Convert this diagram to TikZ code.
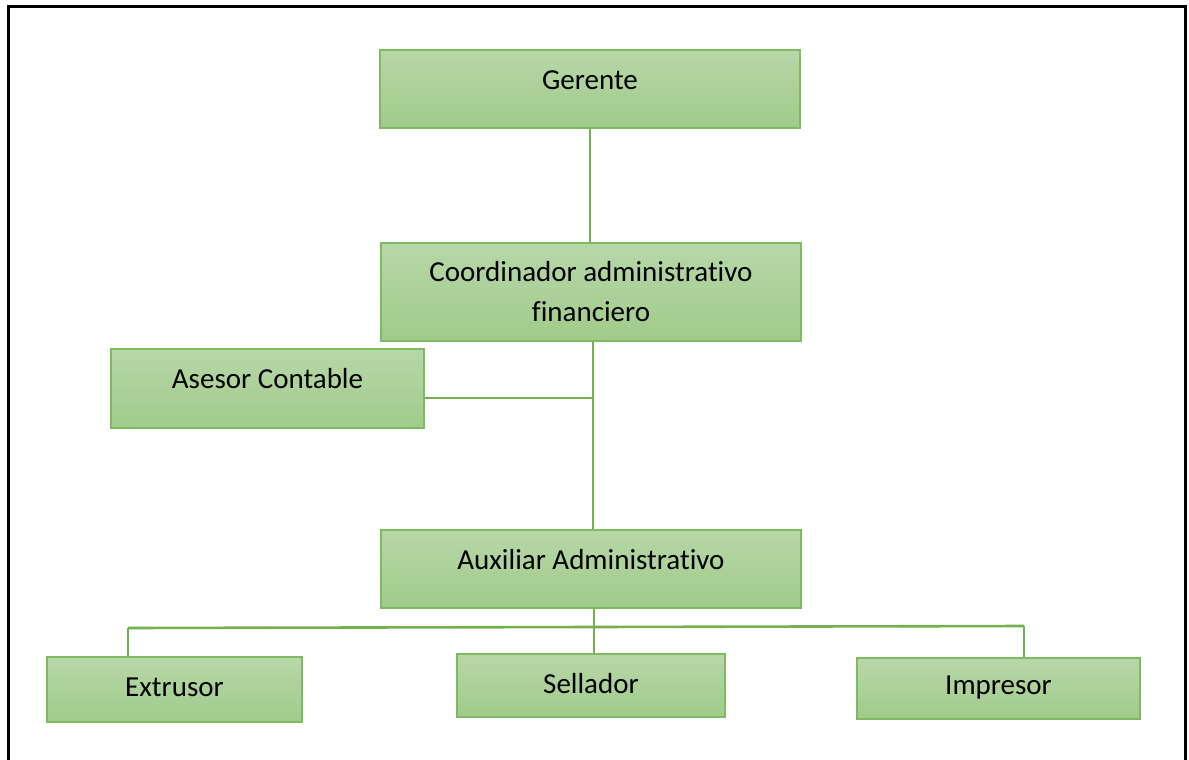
\documentclass[tikz,border=0pt]{standalone}
\usepackage{fontspec}
\setmainfont{Carlito}[Ligatures={NoCommon}]
\definecolor{boxtop}{HTML}{B7D7A8}
\definecolor{boxbot}{HTML}{A0CB8A}
\definecolor{boxedge}{HTML}{80BA60}
\definecolor{linegreen}{HTML}{74B04E}
\begin{document}
\begin{tikzpicture}[x=1pt,y=-1pt,
  box/.style={draw=boxedge,line width=1.5pt,top color=boxtop,bottom color=boxbot,inner sep=0pt},
  txt/.style={font=\fontsize{29}{40}\selectfont,inner sep=0pt,align=center,text=black},
  conn/.style={draw=linegreen,line width=2.6pt}]
\useasboundingbox (0,0) rectangle (1189,760);
\draw[line width=3pt,black] (8,770) -- (8,6.5) -- (1185,6.5) -- (1185,770);
% boxes
\node[box,minimum width=420pt,minimum height=78pt] (g) at (590,89) {};
\node[txt] (gt) at (590,80) {Gerente};
\node[box,minimum width=420pt,minimum height=98pt] (c) at (591,292) {};
\node[txt] (ct) at (591,292) {Coordinador administrativo\\financiero};
\node[box,minimum width=313pt,minimum height=79pt] (a) at (267.5,388.5) {};
\node[txt] (at) at (267.5,379) {Asesor Contable};
\node[box,minimum width=420pt,minimum height=78pt] (x) at (591,569) {};
\node[txt] (xt) at (591,560) {Auxiliar Administrativo};
\node[box,minimum width=255pt,minimum height=65pt] (e) at (174.5,689.5) {};
\node[txt] (et) at (174.5,687) {Extrusor};
\node[box,minimum width=268pt,minimum height=63pt] (s) at (591,685.5) {};
\node[txt] (st) at (591,684) {Sellador};
\node[box,minimum width=283pt,minimum height=61pt] (i) at (998.5,688.5) {};
\node[txt] (it) at (998.5,688) {Impresor};
% connectors
\coordinate (j1) at (593,398);
\coordinate (bl) at (128,628);
\coordinate (bm) at (594,627);
\coordinate (br) at (1024,626);
\draw[conn] (g.south) -- (g.south |- c.north);
\draw[conn] (c.south -| j1) -- (x.north -| j1);
\draw[conn] (a.east |- j1) -- (j1);
\draw[conn] (x.south -| bm) -- (bm);
\draw[conn] (bl) -- (bm) -- (br);
\draw[conn] (bl) -- (bl |- e.north);
\draw[conn] (bm) -- (bm |- s.north);
\draw[conn] (br) -- (br |- i.north);
\end{tikzpicture}
\end{document}
